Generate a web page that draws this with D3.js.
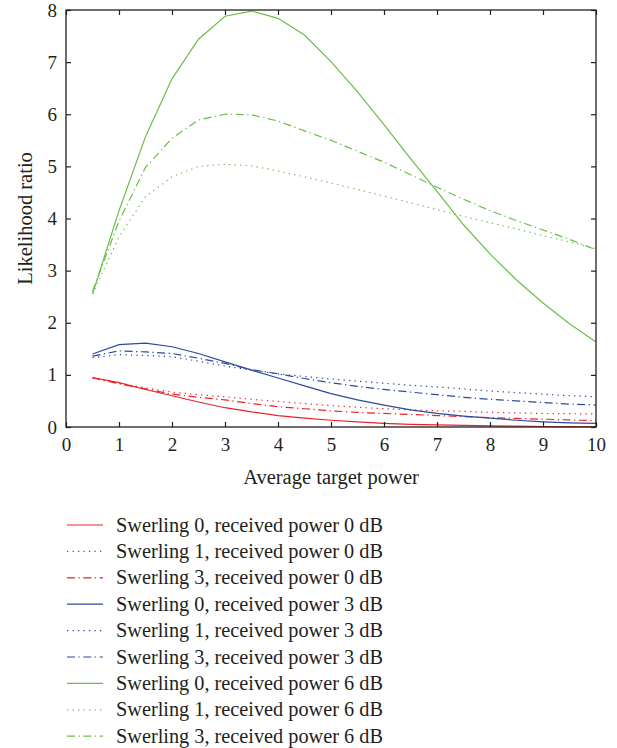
<!DOCTYPE html>
<html>
<head>
<meta charset="utf-8">
<script src="https://cdn.jsdelivr.net/npm/d3@7"></script>
<style>
  body { margin: 0; background: #fff; }
  text { font-family: "Liberation Serif", "DejaVu Serif", serif; fill: #231f20; }
</style>
</head>
<body>
<script>
// Average target power (x values shared by every curve)
var power = [0.5, 1, 1.5, 2, 2.5, 3, 3.5, 4, 4.5, 5, 5.5, 6, 6.5, 7, 7.5, 8, 8.5, 9, 9.5, 10];

// likelihood ratio, received power 0 dB
var s0_0dB = [0.95, 0.85, 0.72, 0.6, 0.48, 0.37, 0.29, 0.22, 0.17, 0.13, 0.1, 0.07, 0.05, 0.04, 0.03, 0.02, 0.015, 0.01, 0.008, 0.005];
var s1_0dB = [0.94, 0.84, 0.75, 0.67, 0.62, 0.58, 0.53, 0.49, 0.45, 0.41, 0.38, 0.35, 0.33, 0.31, 0.3, 0.28, 0.27, 0.26, 0.255, 0.25];
var s3_0dB = [0.94, 0.83, 0.73, 0.63, 0.57, 0.52, 0.45, 0.39, 0.35, 0.31, 0.28, 0.26, 0.24, 0.22, 0.2, 0.18, 0.165, 0.15, 0.135, 0.12];
// received power 3 dB
var s0_3dB = [1.4, 1.58, 1.61, 1.54, 1.41, 1.25, 1.09, 0.94, 0.79, 0.64, 0.52, 0.42, 0.33, 0.26, 0.21, 0.17, 0.13, 0.1, 0.08, 0.07];
var s1_3dB = [1.33, 1.39, 1.37, 1.35, 1.26, 1.17, 1.09, 1.02, 0.97, 0.92, 0.88, 0.84, 0.8, 0.77, 0.73, 0.69, 0.66, 0.63, 0.6, 0.58];
var s3_3dB = [1.36, 1.46, 1.44, 1.41, 1.32, 1.22, 1.1, 1.02, 0.93, 0.85, 0.78, 0.72, 0.67, 0.62, 0.57, 0.53, 0.5, 0.47, 0.44, 0.42];
// received power 6 dB
var s0_6dB = [2.55, 4.15, 5.57, 6.68, 7.44, 7.88, 7.98, 7.84, 7.52, 7.01, 6.43, 5.8, 5.15, 4.52, 3.88, 3.32, 2.82, 2.38, 1.98, 1.63];
var s1_6dB = [2.55, 3.65, 4.42, 4.8, 5.0, 5.04, 5.01, 4.91, 4.8, 4.68, 4.56, 4.43, 4.3, 4.17, 4.04, 3.92, 3.8, 3.67, 3.55, 3.42];
var s3_6dB = [2.6, 3.95, 4.98, 5.54, 5.89, 6.0, 5.99, 5.87, 5.68, 5.5, 5.29, 5.08, 4.84, 4.6, 4.37, 4.15, 3.96, 3.78, 3.6, 3.4];

var xTicks = [0, 1, 2, 3, 4, 5, 6, 7, 8, 9, 10];
var yTicks = [0, 1, 2, 3, 4, 5, 6, 7, 8];

var seriesNames = [
  "Swerling 0, received power 0 dB",
  "Swerling 1, received power 0 dB",
  "Swerling 3, received power 0 dB",
  "Swerling 0, received power 3 dB",
  "Swerling 1, received power 3 dB",
  "Swerling 3, received power 3 dB",
  "Swerling 0, received power 6 dB",
  "Swerling 1, received power 6 dB",
  "Swerling 3, received power 6 dB"
];
var seriesValues = [s0_0dB, s1_0dB, s3_0dB, s0_3dB, s1_3dB, s3_3dB, s0_6dB, s1_6dB, s3_6dB];

var red = "#e8242a", blue = "#2c4b9d", green = "#6bbd4a";
var colors = [red, red, red, blue, blue, blue, green, green, green];
// solid, dotted, dash-dot
var dashes = [null, "1.3,4.2", "8,3.5,1.3,3.5"];

var width = 617, height = 748;
var margin = {top: 10, right: 21, bottom: 321, left: 66};

var svg = d3.select("body").append("svg")
    .attr("width", width)
    .attr("height", height);

var x = d3.scaleLinear().domain([0, 10]).range([margin.left, width - margin.right]);
var y = d3.scaleLinear().domain([0, 8]).range([height - margin.bottom, margin.top]);

var line = d3.line()
    .x(function(d, i) { return x(power[i]); })
    .y(function(d) { return y(d); });

// curves
var curves = svg.append("g");
seriesValues.forEach(function(vals, k) {
  curves.append("path")
      .attr("d", line(vals))
      .attr("fill", "none")
      .attr("stroke", colors[k])
      .attr("stroke-width", 1.2)
      .attr("stroke-dasharray", dashes[k % 3]);
});

// axes with inward ticks on all four sides
function styleAxis(g) {
  g.select(".domain").remove();
  g.selectAll(".tick line").attr("stroke", "#231f20").attr("stroke-width", 1.2);
  g.selectAll(".tick text").attr("font-size", 19).attr("fill", "#231f20")
      .attr("font-family", "Liberation Serif, DejaVu Serif, serif");
}

svg.append("g")
    .attr("transform", "translate(0," + y(0) + ")")
    .call(d3.axisBottom(x).tickValues(xTicks).tickSizeInner(-5).tickSizeOuter(0).tickPadding(11))
    .call(styleAxis);

svg.append("g")
    .attr("transform", "translate(0," + y(8) + ")")
    .call(d3.axisTop(x).tickValues(xTicks).tickSizeInner(-5).tickSizeOuter(0).tickFormat(""))
    .call(styleAxis);

svg.append("g")
    .attr("transform", "translate(" + x(0) + ",0)")
    .call(d3.axisLeft(y).tickValues(yTicks).tickSizeInner(-5).tickSizeOuter(0).tickPadding(9))
    .call(styleAxis);

svg.append("g")
    .attr("transform", "translate(" + x(10) + ",0)")
    .call(d3.axisRight(y).tickValues(yTicks).tickSizeInner(-5).tickSizeOuter(0).tickFormat(""))
    .call(styleAxis);

// frame
svg.append("rect")
    .attr("x", x(0))
    .attr("y", y(8))
    .attr("width", x(10) - x(0))
    .attr("height", y(0) - y(8))
    .attr("fill", "none")
    .attr("stroke", "#231f20")
    .attr("stroke-width", 1.3);

// axis titles
svg.append("text")
    .attr("x", (x(0) + x(10)) / 2)
    .attr("y", 484)
    .attr("text-anchor", "middle")
    .attr("font-size", 20.5)
    .text("Average target power");

svg.append("text")
    .attr("transform", "translate(32," + ((y(0) + y(8)) / 2) + ") rotate(-90)")
    .attr("text-anchor", "middle")
    .attr("font-size", 20.5)
    .text("Likelihood ratio");

// legend
var legend = svg.append("g");
seriesNames.forEach(function(name, k) {
  var ly = 525 + k * 26.4;
  legend.append("line")
      .attr("x1", 67).attr("x2", 103)
      .attr("y1", ly).attr("y2", ly)
      .attr("stroke", colors[k])
      .attr("stroke-width", 1.2)
      .attr("stroke-dasharray", dashes[k % 3]);
  legend.append("text")
      .attr("x", 116)
      .attr("y", ly + 6.5)
      .attr("font-size", 20.3)
      .text(name);
});
</script>
</body>
</html>
